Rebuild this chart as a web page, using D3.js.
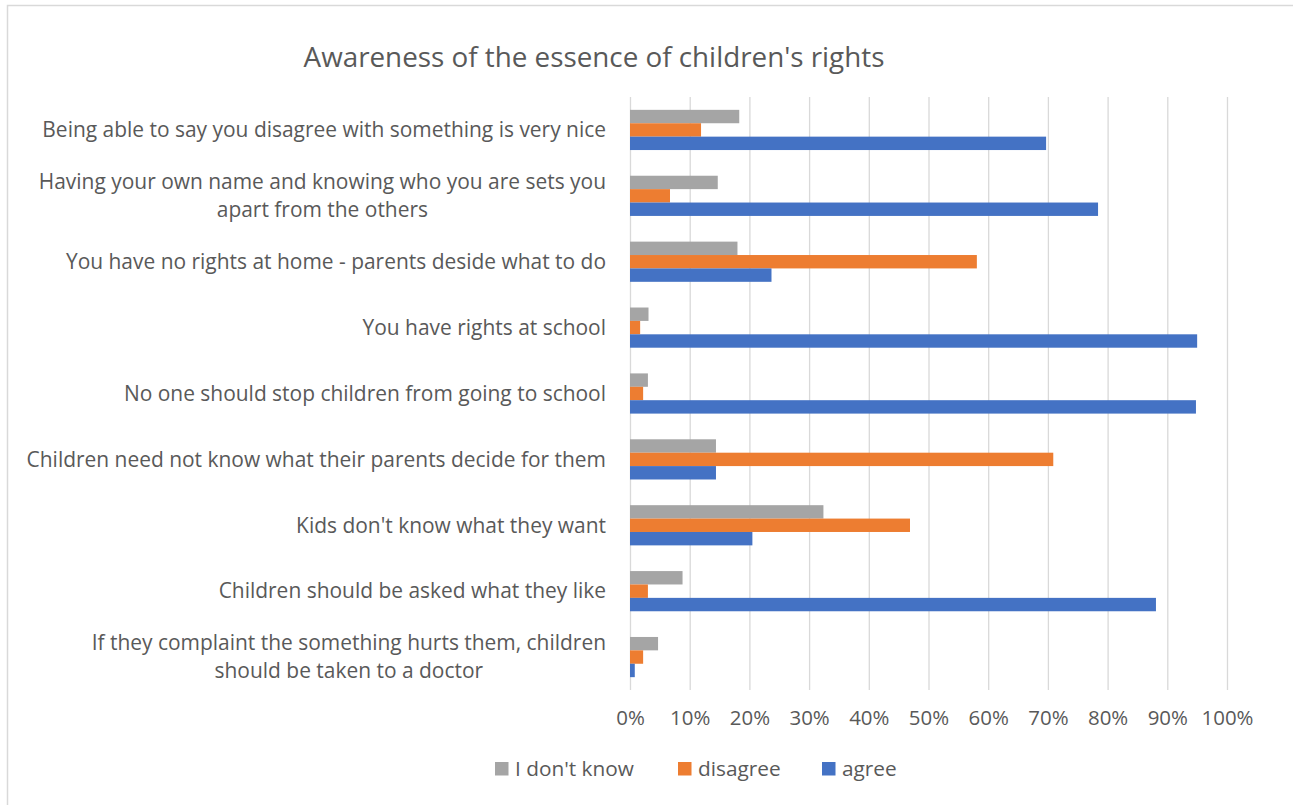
<!DOCTYPE html>
<html>
<head>
<meta charset="utf-8">
<script src="https://cdn.jsdelivr.net/npm/d3@7"></script>
<style>
  html, body { margin: 0; padding: 0; background: #fff; }
  svg { display: block; }
  text { font-family: "Open Sans", Lato, "Liberation Sans", sans-serif; fill: #595959; }
</style>
</head>
<body>
<svg id="chart" width="1293" height="805"></svg>
<script>
// Survey statements, listed top to bottom; long ones are split into lines
const categories = [
  ["Being able to say you disagree with something is very nice"],
  ["Having your own name and knowing who you are sets you", "apart from the others"],
  ["You have no rights at home - parents deside what to do"],
  ["You have rights at school"],
  ["No one should stop children from going to school"],
  ["Children need not know what their parents decide for them"],
  ["Kids don't know what they want"],
  ["Children should be asked what they like"],
  ["If they complaint the something hurts them, children", "should be taken to a doctor"]
];

// Share of answers per statement (fraction of respondents)
const dontKnow = [0.183, 0.147, 0.180, 0.031, 0.030, 0.144, 0.324, 0.088, 0.047];
const disagree = [0.119, 0.067, 0.581, 0.017, 0.022, 0.709, 0.469, 0.030, 0.022];
const agree    = [0.697, 0.784, 0.237, 0.950, 0.948, 0.144, 0.205, 0.881, 0.008];

const seriesNames = ["I don't know", "disagree", "agree"];
const seriesColors = ["#A5A5A5", "#ED7D31", "#4472C4"];
const tickValues = [0, 0.1, 0.2, 0.3, 0.4, 0.5, 0.6, 0.7, 0.8, 0.9, 1.0];

const series = [dontKnow, disagree, agree];

const svg = d3.select("#chart");

// pick a font size so that a sample string spans the wanted width
function fitSize(sample, width) {
  const probe = svg.append("text").style("font-size", "20px").text(sample);
  const w = probe.node().getComputedTextLength();
  probe.remove();
  return 20 * width / w;
}
const labelSize = fitSize(categories[0][0], 564);
const titleSize = fitSize("Awareness of the essence of children's rights", 581);
const tickSize = fitSize("100%", 52);
const legendSize = fitSize(seriesNames[0], 119);

// chart area outline
svg.append("rect")
  .attr("x", 7.5).attr("y", 5.5)
  .attr("width", 1400).attr("height", 900)
  .attr("fill", "none").attr("stroke", "#d9d9d9").attr("stroke-width", 1.5);

const plot = { left: 630, right: 1227, top: 97, bottom: 690 };

const x = d3.scaleLinear().domain([0, 1]).range([plot.left, plot.right]);
const y = d3.scaleBand()
  .domain(d3.range(categories.length))
  .range([plot.top, plot.bottom])
  .paddingInner(0.39).paddingOuter(0.195);
const ySub = d3.scaleBand()
  .domain(d3.range(series.length))
  .range([0, y.bandwidth()]);

// title
svg.append("text")
  .attr("x", 594).attr("y", 57)
  .attr("dy", "0.35em")
  .attr("text-anchor", "middle")
  .style("font-size", titleSize + "px")
  .text("Awareness of the essence of children's rights");

// vertical gridlines and percentage ticks
const xAxis = d3.axisBottom(x)
  .tickValues(tickValues)
  .tickFormat(d3.format(".0%"))
  .tickSize(-(plot.bottom - plot.top))
  .tickPadding(20);

const gx = svg.append("g")
  .attr("transform", `translate(0,${plot.bottom})`)
  .call(xAxis);
gx.select(".domain").remove();
gx.selectAll(".tick line").attr("stroke", "#d9d9d9").attr("stroke-width", 1.3);
gx.selectAll(".tick text")
  .style("font-size", tickSize + "px")
  .attr("fill", "#595959");

// bars
const groups = svg.append("g").selectAll("g")
  .data(categories)
  .join("g")
  .attr("transform", (d, i) => `translate(0,${y(i)})`);

groups.selectAll("rect")
  .data((d, i) => series.map((s, k) => ({ k, v: s[i] })))
  .join("rect")
  .attr("x", x(0))
  .attr("y", d => ySub(d.k))
  .attr("width", d => x(d.v) - x(0))
  .attr("height", ySub.bandwidth())
  .attr("fill", d => seriesColors[d.k]);

// category labels: block right aligned at the axis, lines centred within it
const labelRight = 606;
const lineH = 28;
groups.each(function (lines) {
  const g = d3.select(this);
  const cy = y.bandwidth() / 2;
  const probe = svg.append("text").style("font-size", labelSize + "px");
  const widths = lines.map(l => { probe.text(l); return probe.node().getComputedTextLength(); });
  probe.remove();
  const centerX = labelRight - d3.max(widths) / 2;
  const t = g.append("text")
    .attr("text-anchor", "middle")
    .style("font-size", labelSize + "px");
  lines.forEach((l, j) => {
    t.append("tspan")
      .attr("x", centerX)
      .attr("y", cy + (j - (lines.length - 1) / 2) * lineH)
      .attr("dy", "0.35em")
      .text(l);
  });
});

// legend
const legendItems = [
  { name: seriesNames[0], color: seriesColors[0], x: 495 },
  { name: seriesNames[1], color: seriesColors[1], x: 678 },
  { name: seriesNames[2], color: seriesColors[2], x: 822 }
];
const lg = svg.append("g").selectAll("g")
  .data(legendItems)
  .join("g")
  .attr("transform", d => `translate(${d.x},762)`);
lg.append("rect").attr("width", 13.5).attr("height", 13.5).attr("fill", d => d.color);
lg.append("text")
  .attr("x", 20).attr("y", 7).attr("dy", "0.35em")
  .style("font-size", legendSize + "px")
  .text(d => d.name);
</script>
</body>
</html>
